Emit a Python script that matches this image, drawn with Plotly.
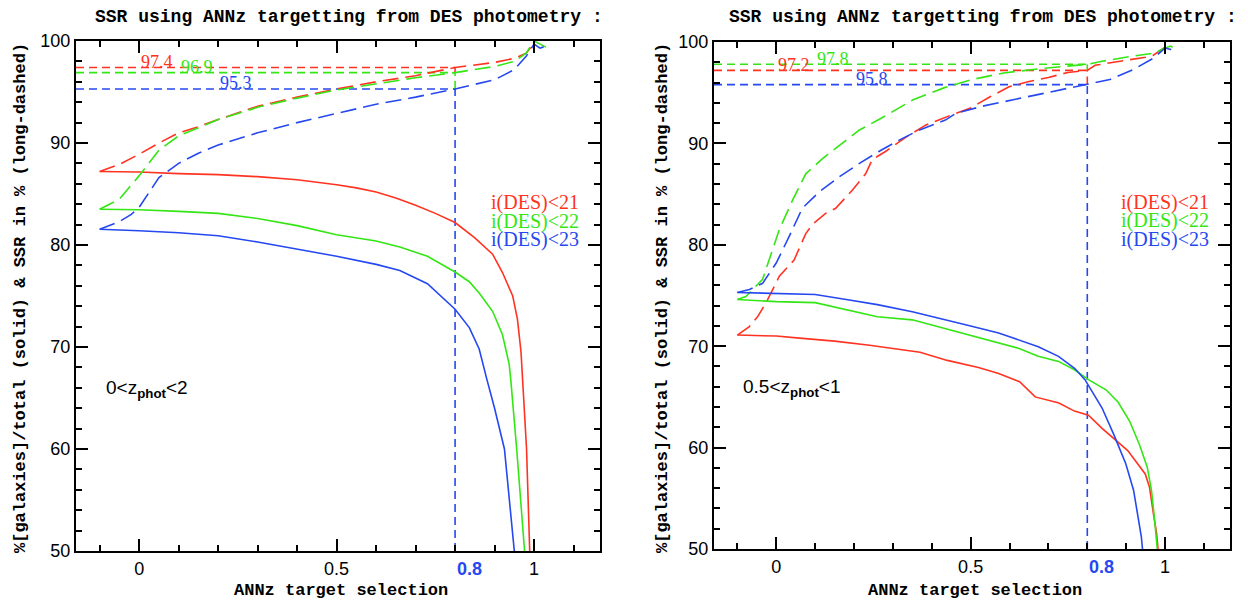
import plotly.graph_objects as go

# ---------------- data ----------------
# Left panel: 0<z_phot<2
L_red_solid_x = [-0.1, 0.0, 0.1, 0.2, 0.3, 0.4, 0.5, 0.55, 0.6, 0.65, 0.7, 0.75, 0.8, 0.85, 0.895, 0.92, 0.946, 0.958, 0.967, 0.971, 0.981, 0.989]
L_red_solid_y = [87.2, 87.15, 87.0, 86.9, 86.7, 86.4, 85.9, 85.6, 85.2, 84.6, 83.9, 83.1, 82.2, 80.7, 79.1, 77.3, 75.0, 72.7, 69.5, 66.8, 60.0, 50.0]
L_green_solid_x = [-0.1, 0.0, 0.1, 0.2, 0.3, 0.4, 0.5, 0.6, 0.66, 0.73, 0.8, 0.836, 0.861, 0.895, 0.92, 0.937, 0.941, 0.956, 0.976]
L_green_solid_y = [83.5, 83.45, 83.3, 83.1, 82.6, 81.9, 81.0, 80.4, 79.8, 78.9, 77.35, 76.4, 75.3, 73.5, 71.2, 68.3, 66.8, 60.0, 50.0]
L_blue_solid_x = [-0.1, -0.05, 0.0, 0.1, 0.2, 0.3, 0.4, 0.5, 0.6, 0.66, 0.73, 0.8, 0.836, 0.861, 0.88, 0.9, 0.925, 0.95]
L_blue_solid_y = [81.55, 81.5, 81.4, 81.2, 80.9, 80.3, 79.6, 78.9, 78.1, 77.5, 76.2, 73.7, 71.9, 69.8, 66.9, 64.0, 60.0, 50.0]
L_red_dash_x = [-0.1, -0.05, 0.0, 0.05, 0.1, 0.15, 0.2, 0.3, 0.4, 0.5, 0.6, 0.7, 0.8, 0.9, 0.95, 0.98, 1.0]
L_red_dash_y = [87.2, 87.9, 88.9, 90.0, 91.0, 91.6, 92.3, 93.6, 94.5, 95.3, 96.0, 96.6, 97.4, 97.9, 98.3, 98.8, 99.8]
L_green_dash_x = [-0.1, -0.05, 0.0, 0.05, 0.1, 0.15, 0.2, 0.3, 0.4, 0.5, 0.6, 0.7, 0.8, 0.9, 0.95, 0.98, 1.0, 1.03]
L_green_dash_y = [83.5, 84.5, 86.8, 89.3, 90.7, 91.5, 92.3, 93.5, 94.4, 95.2, 95.8, 96.4, 96.9, 97.5, 98.0, 98.8, 100.0, 99.4]
L_blue_dash_x = [-0.1, -0.05, -0.02, 0.0, 0.05, 0.1, 0.15, 0.2, 0.3, 0.4, 0.5, 0.6, 0.7, 0.8, 0.9, 0.95, 0.98, 1.0, 1.015, 1.03]
L_blue_dash_y = [81.55, 82.3, 83.0, 83.7, 86.6, 88.0, 89.0, 89.8, 91.0, 92.0, 92.9, 93.8, 94.5, 95.3, 96.2, 97.2, 98.5, 99.7, 99.3, 99.5]
L_ssr_at_cut = [97.4, 96.9, 95.3]          # red, green, blue

# Right panel: 0.5<z_phot<1
R_red_solid_x = [-0.1, 0.0, 0.06, 0.15, 0.24, 0.3, 0.37, 0.44, 0.52, 0.572, 0.626, 0.666, 0.727, 0.767, 0.803, 0.838, 0.884, 0.904, 0.949, 0.96, 0.97, 0.978, 0.982]
R_red_solid_y = [71.1, 71.0, 70.8, 70.5, 70.1, 69.8, 69.4, 68.6, 67.9, 67.3, 66.5, 65.0, 64.4, 63.6, 63.2, 61.9, 60.3, 59.7, 57.4, 56.1, 53.5, 51.6, 50.0]
R_green_solid_x = [-0.1, 0.0, 0.1, 0.18, 0.26, 0.35, 0.45, 0.572, 0.623, 0.674, 0.726, 0.768, 0.803, 0.848, 0.879, 0.909, 0.934, 0.954, 0.965, 0.973, 0.98]
R_green_solid_y = [74.6, 74.4, 74.3, 73.6, 72.9, 72.6, 71.6, 70.35, 69.8, 69.0, 68.5, 67.65, 66.7, 65.7, 64.5, 62.6, 60.3, 58.1, 55.8, 52.9, 50.0]
R_blue_solid_x = [-0.1, 0.0, 0.1, 0.18, 0.26, 0.35, 0.44, 0.5, 0.572, 0.623, 0.674, 0.726, 0.768, 0.794, 0.838, 0.868, 0.899, 0.919, 0.939, 0.942]
R_blue_solid_y = [75.3, 75.2, 75.1, 74.6, 74.1, 73.4, 72.6, 72.0, 71.3, 70.6, 69.95, 69.0, 67.8, 66.7, 63.9, 61.3, 58.4, 55.8, 51.2, 50.0]
R_red_dash_x = [-0.1, -0.07, -0.048, -0.026, 0.008, 0.046, 0.076, 0.093, 0.127, 0.153, 0.196, 0.23, 0.247, 0.281, 0.333, 0.384, 0.418, 0.45, 0.5, 0.55, 0.6, 0.65, 0.7, 0.75, 0.8, 0.82, 0.9, 0.95, 0.97, 1.0]
R_red_dash_y = [71.1, 71.9, 72.9, 74.3, 76.9, 78.5, 81.1, 82.0, 83.1, 83.6, 85.4, 87.0, 88.4, 89.2, 90.6, 91.8, 92.3, 92.8, 93.5, 94.6, 95.6, 96.1, 96.5, 97.0, 97.2, 97.7, 98.2, 98.5, 98.7, 99.5]
R_green_dash_x = [-0.1, -0.078, -0.035, -0.018, 0.008, 0.042, 0.076, 0.119, 0.17, 0.213, 0.271, 0.352, 0.433, 0.504, 0.585, 0.686, 0.8, 0.838, 0.899, 0.97, 1.0, 1.015, 1.025]
R_green_dash_y = [74.6, 74.9, 76.6, 78.5, 81.5, 84.4, 87.0, 88.5, 90.0, 91.3, 92.5, 94.3, 95.5, 96.3, 96.95, 97.4, 97.8, 98.1, 98.5, 98.9, 99.4, 99.6, 99.3]
R_blue_dash_x = [-0.1, -0.069, -0.035, 0.0, 0.033, 0.067, 0.11, 0.162, 0.213, 0.264, 0.315, 0.367, 0.435, 0.464, 0.534, 0.636, 0.737, 0.8, 0.858, 0.919, 0.97, 1.0, 1.015, 1.03]
R_blue_dash_y = [75.3, 75.6, 76.2, 78.2, 80.8, 83.6, 85.2, 86.7, 88.0, 89.2, 90.3, 91.3, 92.3, 93.0, 93.7, 94.5, 95.3, 95.8, 96.3, 97.3, 98.4, 99.4, 99.25, 98.9]
R_ssr_at_cut = [97.2, 97.8, 95.8]          # red, green, blue

series_names = ["i(DES)<21", "i(DES)<22", "i(DES)<23"]
x_cut = 0.8
x_ticks = [0, 0.5, 1]
x_ticklabels = ["0", "0.5", "1"]
y_ticks = [50, 60, 70, 80, 90, 100]
y_ticklabels = ["50", "60", "70", "80", "90", "100"]

# ---------------- style ----------------
RED, GREEN, BLUE = "#ff3322", "#33e614", "#2648f0"
COLORS = [RED, GREEN, BLUE]
XR = [-0.16, 1.167]
YR = [50, 100]
SERIF = "Liberation Serif"
SANS = "Liberation Sans"
MONO = "Liberation Mono"
LONG_DASH = "16px,7px"
SHORT_DASH = "8px,5px"

# page body has an 8px margin: figure sized so it fits the 1248x603 window
OFF = 8
FW, FH = 1248 - OFF, 603 - OFF


def px(X):
    return (X - OFF) / FW


def py(Y):
    return 1 - (Y - OFF) / FH


fig = go.Figure()

panels = [
    dict(xa="x", ya="y",
         solid=[(L_red_solid_x, L_red_solid_y), (L_green_solid_x, L_green_solid_y), (L_blue_solid_x, L_blue_solid_y)],
         dash=[(L_red_dash_x, L_red_dash_y), (L_green_dash_x, L_green_dash_y), (L_blue_dash_x, L_blue_dash_y)],
         ssr=L_ssr_at_cut, zlabel="0&lt;z<sub><b>phot</b></sub>&lt;2"),
    dict(xa="x2", ya="y2",
         solid=[(R_red_solid_x, R_red_solid_y), (R_green_solid_x, R_green_solid_y), (R_blue_solid_x, R_blue_solid_y)],
         dash=[(R_red_dash_x, R_red_dash_y), (R_green_dash_x, R_green_dash_y), (R_blue_dash_x, R_blue_dash_y)],
         ssr=R_ssr_at_cut, zlabel="0.5&lt;z<sub><b>phot</b></sub>&lt;1"),
]

annotations = []
for p in panels:
    xa, ya = p["xa"], p["ya"]
    # horizontal short-dashed reference lines
    for c, lvl in zip(COLORS, p["ssr"]):
        fig.add_trace(go.Scatter(x=[XR[0], x_cut], y=[lvl, lvl], mode="lines", xaxis=xa, yaxis=ya,
                                 line=dict(color=c, width=1.6, dash=SHORT_DASH), showlegend=False, hoverinfo="skip"))
    # vertical short-dashed line at the cut: each colour from its level down to the next lower level
    levels = sorted(zip(p["ssr"], COLORS), reverse=True)
    for k, (lvl, c) in enumerate(levels):
        lower = levels[k + 1][0] if k + 1 < len(levels) else YR[0]
        fig.add_trace(go.Scatter(x=[x_cut, x_cut], y=[lower, lvl], mode="lines", xaxis=xa, yaxis=ya,
                                 line=dict(color=c, width=1.6, dash=SHORT_DASH), showlegend=False, hoverinfo="skip"))
    for c, name, (sx, sy), (dx, dy) in zip(COLORS, series_names, p["solid"], p["dash"]):
        fig.add_trace(go.Scatter(x=sx, y=sy, mode="lines", xaxis=xa, yaxis=ya, name=name,
                                 line=dict(color=c, width=1.6), showlegend=False))
        fig.add_trace(go.Scatter(x=dx, y=dy, mode="lines", xaxis=xa, yaxis=ya, name=name,
                                 line=dict(color=c, width=1.6, dash=LONG_DASH), showlegend=False))
    # value labels
    for k, (c, lvl) in enumerate(zip(COLORS, p["ssr"])):
        annotations.append(dict(x=0.1 * k, y=lvl + 0.55, xref=xa, yref=ya, text=f"{lvl:.1f}",
                                showarrow=False, xanchor="left", yanchor="middle",
                                font=dict(family=SERIF, size=18, color=c)))
    # legend-like labels
    for k, (c, name) in enumerate(zip(COLORS, series_names)):
        annotations.append(dict(x=1.118, y=84.2 - 1.85 * k, xref=xa, yref=ya,
                                text=name.replace("<", "&lt;"), showarrow=False,
                                xanchor="right", yanchor="middle",
                                font=dict(family=SERIF, size=20, color=c)))
    annotations.append(dict(x=-0.09, y=65.9, xref=xa, yref=ya, text=p["zlabel"], showarrow=False,
                            xanchor="left", yanchor="middle", font=dict(family=SANS, size=19, color="black")))
    annotations.append(dict(x=x_cut, y=0, xref=xa, yref=ya + " domain", text="<b>0.8</b>", showarrow=False,
                            xanchor="left", yanchor="top", yshift=-6,
                            font=dict(family=SANS, size=18, color=BLUE)))

# panel frames in window pixels: (left, right, top, bottom)
frames = [(76, 600, 41, 551), (714, 1230, 42, 549)]
title_cx = [349, 983]
xlabel_cx = [341, 975]
ylabel_cx = [20, 662]

title_text = "SSR using ANNz targetting from DES photometry :"
ylab = "%[galaxies]/total (solid) &amp; SSR in % (long-dashed)"
for tcx, xcx, ycx in zip(title_cx, xlabel_cx, ylabel_cx):
    annotations.append(dict(x=px(tcx), y=py(17), xref="paper", yref="paper", text="<b>" + title_text + "</b>",
                            showarrow=False, xanchor="center", yanchor="middle",
                            font=dict(family=MONO, size=18, color="black")))
    annotations.append(dict(x=px(xcx), y=py(590), xref="paper", yref="paper", text="<b>ANNz target selection</b>",
                            showarrow=False, xanchor="center", yanchor="middle",
                            font=dict(family=MONO, size=17, color="black")))
    annotations.append(dict(x=px(ycx), y=py(298), xref="paper", yref="paper", text="<b>" + ylab + "</b>",
                            showarrow=False, xanchor="center", yanchor="middle", textangle=-90,
                            font=dict(family=MONO, size=17, color="black")))

axis_common = dict(showline=True, linecolor="black", linewidth=2, mirror="allticks",
                   ticks="inside", tickcolor="black", tickwidth=1.5, ticklen=12,
                   showgrid=False, zeroline=False, automargin=False,
                   tickfont=dict(family=SANS, size=18, color="black"))

xcommon = dict(axis_common, range=XR, tickmode="array", tickvals=x_ticks, ticktext=x_ticklabels,
               minor=dict(ticks="inside", tickmode="linear", tick0=0, dtick=0.1, ticklen=6,
                          tickcolor="black", tickwidth=1.5))
ycommon = dict(axis_common, range=YR, tickmode="array", tickvals=y_ticks, ticktext=y_ticklabels,
               minor=dict(ticks="inside", tickmode="linear", tick0=50, dtick=2, ticklen=6,
                          tickcolor="black", tickwidth=1.5))

(l1, r1, t1, b1), (l2, r2, t2, b2) = frames
fig.update_layout(
    template="none",
    width=FW, height=FH, autosize=False,
    margin=dict(l=0, r=0, t=0, b=0, pad=0, autoexpand=False),
    paper_bgcolor="white", plot_bgcolor="white",
    xaxis=dict(xcommon, domain=[px(l1), px(r1)], anchor="y"),
    yaxis=dict(ycommon, domain=[py(b1), py(t1)], anchor="x"),
    xaxis2=dict(xcommon, domain=[px(l2), px(r2)], anchor="y2"),
    yaxis2=dict(ycommon, domain=[py(b2), py(t2)], anchor="x2"),
    annotations=annotations,
    showlegend=False,
)

fig.write_html("out.html")
